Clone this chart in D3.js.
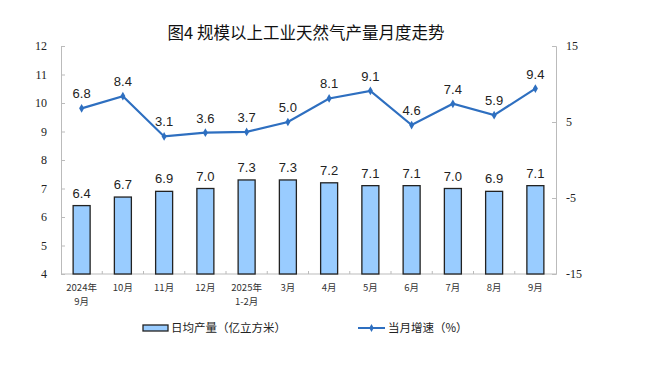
<!DOCTYPE html>
<html><head><meta charset="utf-8">
<script src="https://cdn.jsdelivr.net/npm/d3@7/dist/d3.min.js"></script>
<style>body{margin:0;background:#fff}svg{display:block}</style>
</head><body>
<svg id="c" width="649" height="380"></svg>
<script>
const categories = [["2024年","9月"],["10月"],["11月"],["12月"],["2025年","1-2月"],["3月"],["4月"],["5月"],["6月"],["7月"],["8月"],["9月"]];
const output = [6.4, 6.7, 6.9, 7.0, 7.3, 7.3, 7.2, 7.1, 7.1, 7.0, 6.9, 7.1];
const growth = [6.8, 8.4, 3.1, 3.6, 3.7, 5.0, 8.1, 9.1, 4.6, 7.4, 5.9, 9.4];
const leftTicks = [4,5,6,7,8,9,10,11,12];
const rightTicks = [-15,-5,5,15];
const title = "图4  规模以上工业天然气产量月度走势";
const legendBar = "日均产量（亿立方米）";
const legendLine = "当月增速（%）";

const svg = d3.select("#c");
const L = 61, R = 556, T = 46, B = 274;
const idx = categories.map((d,i)=>i);
const x = d3.scaleBand().domain(idx).range([L,R]).paddingInner(0).paddingOuter(0);
const yL = d3.scaleLinear().domain([4,12]).range([B,T]);
const yR = d3.scaleLinear().domain([-15,15]).range([B,T]);
const lineColor = "#2E6FC0";

svg.append("text").attr("x",306).attr("y",39).attr("text-anchor","middle")
  .attr("font-family","'Noto Sans CJK SC'").attr("font-size",16.5).attr("font-weight",400)
  .attr("fill","#111").text(title);

// left axis
const gl = svg.append("g").attr("transform",`translate(${L},0)`)
  .call(d3.axisLeft(yL).tickValues(leftTicks).tickSize(-4).tickPadding(14).tickFormat(d=>String(d)));
gl.selectAll("text").attr("font-family","'Liberation Serif'").attr("font-size",12).attr("fill","#222");
// right axis
const gr = svg.append("g").attr("transform",`translate(${R},0)`)
  .call(d3.axisRight(yR).tickValues(rightTicks).tickSize(-4).tickPadding(10).tickFormat(d=>String(d)));
gr.selectAll("text").attr("font-family","'Liberation Serif'").attr("font-size",12).attr("fill","#222");
[gl,gr].forEach(g=>{g.select(".domain").attr("stroke","#bbb");g.selectAll(".tick line").attr("stroke","#bbb");});

// x axis
const gx = svg.append("g").attr("transform",`translate(0,${B})`);
gx.append("line").attr("x1",L).attr("x2",R).attr("stroke","#bbb");
gx.selectAll("line.t").data(idx.slice(1)).join("line").attr("class","t")
  .attr("x1",d=>x(d)).attr("x2",d=>x(d)).attr("y1",0).attr("y2",-3).attr("stroke","#bbb");
const xl = gx.selectAll("text").data(categories).join("text")
  .attr("text-anchor","middle").attr("font-family","'Noto Sans CJK SC'").attr("font-size",9.5).attr("fill","#333");
xl.each(function(d,i){
  const t = d3.select(this);
  d.forEach((s,j)=>t.append("tspan").attr("x",x(i)+x.bandwidth()/2).attr("y",17+j*13.5).text(s));
});

// bars
const bw = 17;
svg.selectAll("rect.bar").data(output).join("rect").attr("class","bar")
  .attr("x",(d,i)=>x(i)+x.bandwidth()/2-bw/2).attr("width",bw)
  .attr("y",d=>yL(d)).attr("height",d=>B-yL(d))
  .attr("fill","#99CCFF").attr("stroke","#222").attr("stroke-width",1.3);
svg.selectAll("text.bl").data(output).join("text").attr("class","bl")
  .attr("x",(d,i)=>x(i)+x.bandwidth()/2).attr("y",d=>yL(d)-8).attr("text-anchor","middle")
  .attr("font-family","'Liberation Sans'").attr("font-size",13).attr("fill","#222").text(d=>d.toFixed(1));

// line
const line = d3.line().x((d,i)=>x(i)+x.bandwidth()/2).y(d=>yR(d));
svg.append("path").datum(growth).attr("d",line).attr("fill","none").attr("stroke",lineColor).attr("stroke-width",2.2);
svg.selectAll("path.m").data(growth).join("path").attr("class","m")
  .attr("d",d3.symbol(d3.symbolDiamond,22)).attr("fill",lineColor)
  .attr("transform",(d,i)=>`translate(${x(i)+x.bandwidth()/2},${yR(d)})`);
svg.selectAll("text.ll").data(growth).join("text").attr("class","ll")
  .attr("x",(d,i)=>x(i)+x.bandwidth()/2).attr("y",d=>yR(d)-10).attr("text-anchor","middle")
  .attr("font-family","'Liberation Sans'").attr("font-size",13).attr("fill","#222").text(d=>d.toFixed(1));

// legend
const lg = svg.append("g");
lg.append("rect").attr("x",143).attr("y",325).attr("width",25).attr("height",6)
  .attr("fill","#99CCFF").attr("stroke","#222").attr("stroke-width",1.3);
lg.append("text").attr("x",171).attr("y",332).attr("font-family","'Noto Sans CJK SC'").attr("font-size",11.5).attr("fill","#222").text(legendBar);
lg.append("line").attr("x1",358).attr("x2",385).attr("y1",328).attr("y2",328).attr("stroke",lineColor).attr("stroke-width",2);
lg.append("path").attr("d",d3.symbol(d3.symbolDiamond,18)).attr("fill",lineColor).attr("transform","translate(371.5,328)");
lg.append("text").attr("x",388).attr("y",332).attr("font-family","'Noto Sans CJK SC'").attr("font-size",11.5).attr("fill","#222").text(legendLine);
</script>
</body></html>
